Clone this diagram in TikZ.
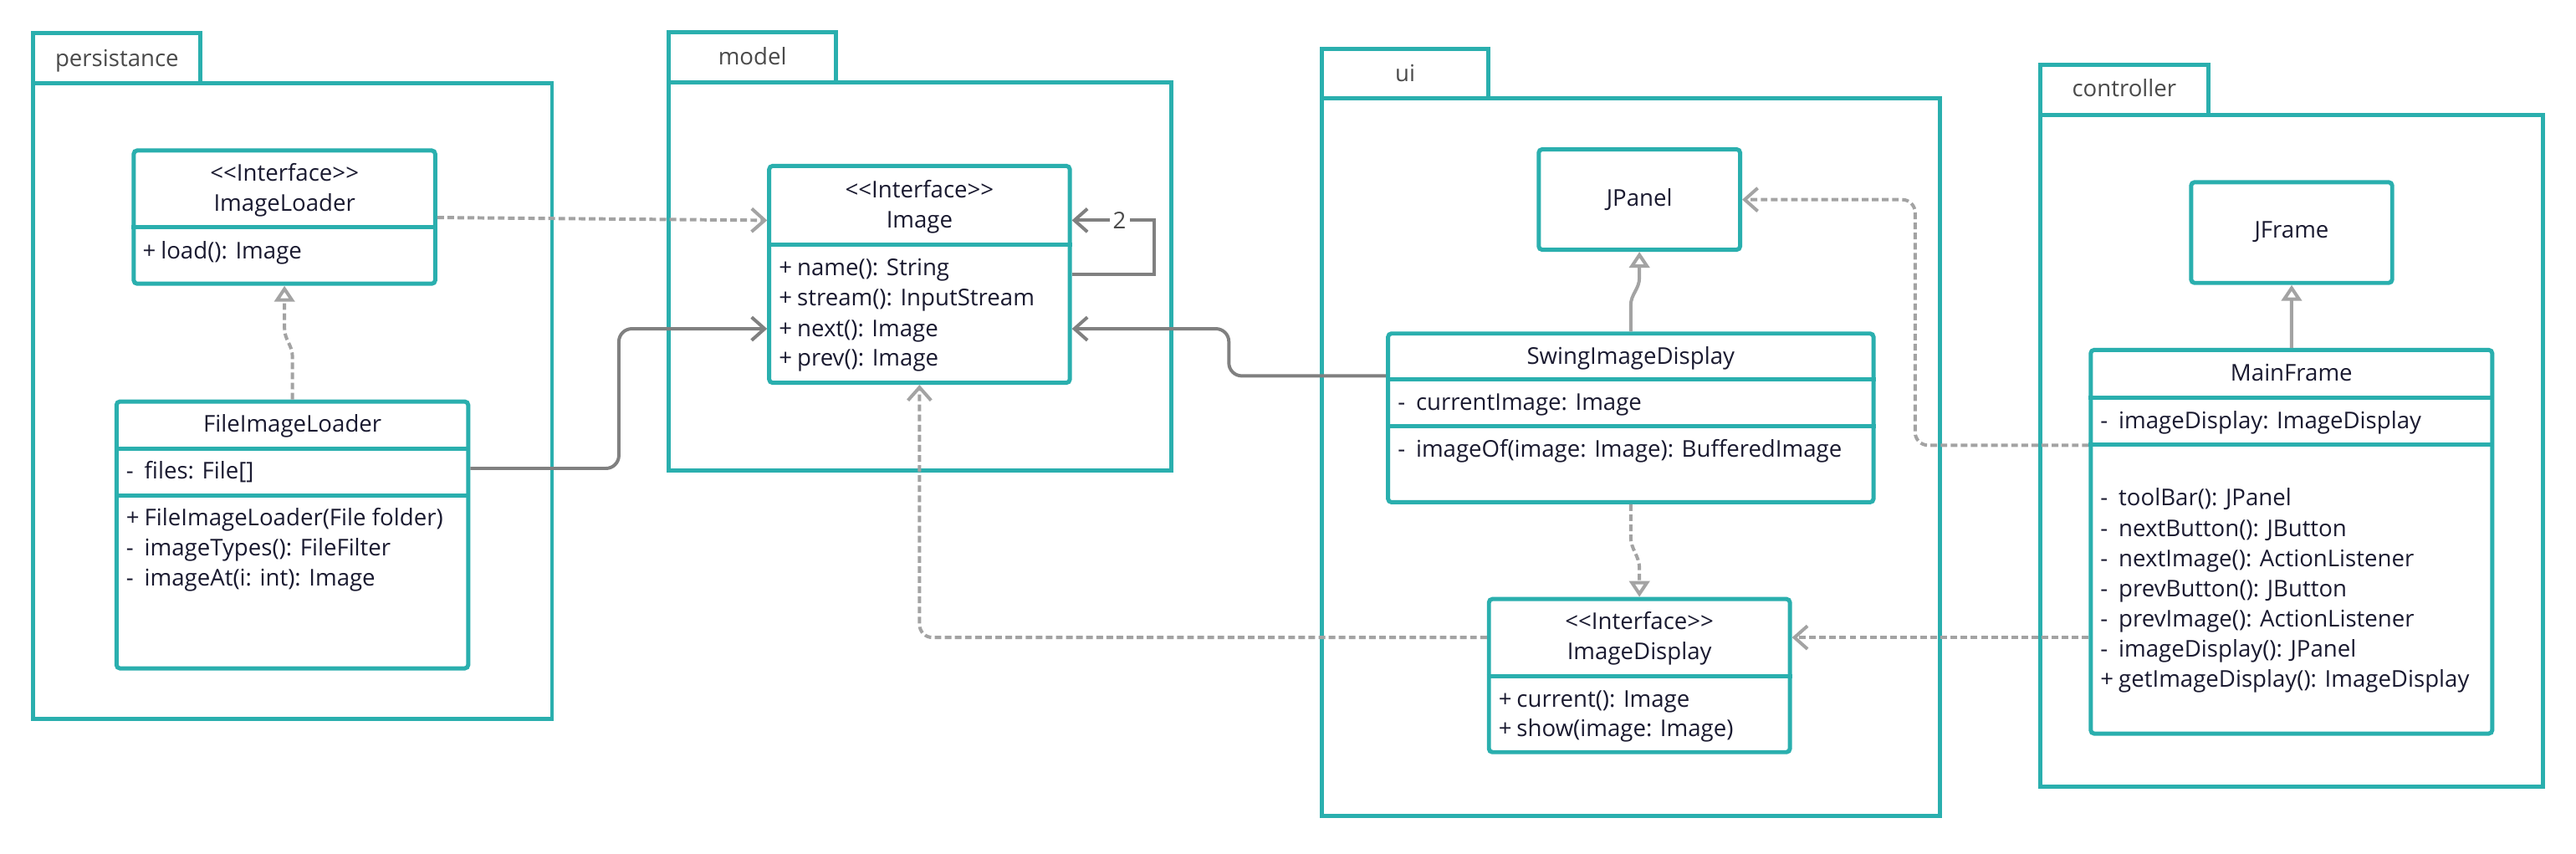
\documentclass[tikz,border=0pt]{standalone}
\usepackage{fontspec}
\newfontfamily\uif{Open Sans}
\usetikzlibrary{arrows.meta,fit}
\definecolor{pkgteal}{HTML}{2AAFAE}
\definecolor{txtdark}{HTML}{1A1A30}
\definecolor{pkgtext}{HTML}{4A4A4A}
\definecolor{linedark}{HTML}{808080}
\definecolor{linelight}{HTML}{A3A3A3}
\newcommand\mline[2]{\makebox[6.3pt][l]{#1}#2}
\tikzset{
  pkgbox/.style={draw=pkgteal, line width=1.44pt, inner sep=0pt},
  pkglabel/.style={font=\uif\fontsize{8}{10}\selectfont, text=pkgtext, inner sep=0pt, anchor=mid},
  clsbox/.style={draw=pkgteal, line width=1.44pt, rounded corners=1.2pt, inner sep=0pt, fill=white},
  clssep/.style={draw=pkgteal, line width=1.44pt},
  ctext/.style={font=\uif\fontsize{8}{10}\selectfont, text=txtdark, inner sep=0pt, anchor=mid},
  mtext/.style={ctext, anchor=mid west},
  assoc/.style={draw=linedark, line width=1.15pt, rounded corners=4.5pt, -{Straight Barb[length=4.5pt,width=8pt]}},
  depend/.style={draw=linelight, line width=1.15pt, rounded corners=4.5pt, dash pattern=on 2.3pt off 1.2pt, -{Straight Barb[length=4.5pt,width=8pt]}},
  realize/.style={draw=linelight, line width=1.15pt, dash pattern=on 2.3pt off 1.2pt, -{Triangle[open,length=5.5pt,width=7pt]}},
  general/.style={draw=linelight, line width=1.15pt, -{Triangle[open,length=5.5pt,width=7pt]}},
  multlabel/.style={font=\uif\fontsize{8}{10}\selectfont, text=pkgtext, fill=white, inner sep=1.2pt}
}
\begin{document}
\begin{tikzpicture}[x=0.02cm, y=-0.02cm]
\useasboundingbox (0,0) rectangle (1568,519.3);
\fill[white] (0,0) rectangle (1568,519.3);

% ---------- packages ----------
\node[pkgbox, fit={(20.3,20.3) (122,50.6)}] (persTab) {};
\node[pkgbox, fit={(20.3,50.6) (336,437.5)}] (persBody) {};
\node[pkglabel] (persLbl) at (71.2,36.5) {persistance};

\node[pkgbox, fit={(407,19.5) (509,50.2)}] (modelTab) {};
\node[pkgbox, fit={(407,50.2) (713,286.6)}] (modelBody) {};
\node[pkglabel] (modelLbl) at (458,35.5) {model};

\node[pkgbox, fit={(804.5,30) (906,60)}] (uiTab) {};
\node[pkgbox, fit={(804.5,60) (1181,496.6)}] (uiBody) {};
\node[pkglabel] (uiLbl) at (855.3,45.9) {ui};

\node[pkgbox, fit={(1242,39.3) (1344.3,70)}] (ctrlTab) {};
\node[pkgbox, fit={(1242,70) (1547.7,479)}] (ctrlBody) {};
\node[pkglabel] (ctrlLbl) at (1293,55.2) {controller};

% ---------- class boxes ----------
\node[clsbox, fit={(81.4,91.6) (264.9,172.7)}] (ImageLoader) {};
\node[clsbox, fit={(70.9,244.4) (285,406.8)}] (FIL) {};
\node[clsbox, fit={(468.2,101) (651.2,233)}] (Image) {};
\node[clsbox, fit={(936.6,90.9) (1059.2,152)}] (JPanel) {};
\node[clsbox, fit={(844.9,203) (1140.4,305.7)}] (SID) {};
\node[clsbox, fit={(906.3,364.6) (1089.5,457.8)}] (ImageDisplay) {};
\node[clsbox, fit={(1333.7,110.9) (1456.1,172.2)}] (JFrame) {};
\node[clsbox, fit={(1272.6,213) (1517,446.5)}] (MainFrame) {};

% ---------- connectors ----------
\draw[depend] (ImageLoader.east |- 0,132.4) -- (Image.west |- 0,134.1);
\draw[realize] (FIL.north) -- (178,217) to[out=90,in=-90] (173.2,200) -- (ImageLoader.south);
\draw[assoc] (FIL.east |- 0,285.1) -- (376.7,285.1) -- (376.7,200.1) -- (Image.west |- 0,200.1);
\draw[assoc, rounded corners=0pt] (Image.east |- 0,167) -- (702.4,167) -- (702.4,134.1)
   -- node[multlabel, pos=0.42] (mult) {2} (Image.east |- 0,134.1);
\draw[assoc] (SID.west |- 0,228.8) -- (748,228.8) -- (748,200.1) -- (Image.east |- 0,200.1);
\draw[general] (SID.north) -- (992.6,186) to[out=90,in=-90] (997.9,169) -- (JPanel.south);
\draw[realize] (SID.south) -- (992.6,326.7) to[out=-90,in=90] (997.9,346) -- (ImageDisplay.north);
\draw[depend] (ImageDisplay.west |- 0,388) -- (559.7,388) -- (Image.south);
\draw[depend] (MainFrame.west |- 0,271) -- (1165.7,271) -- (1165.7,121.5) -- (JPanel.east |- 0,121.5);
\draw[depend] (MainFrame.west |- 0,388) -- (ImageDisplay.east |- 0,388);
\draw[general] (MainFrame.north) -- (JFrame.south);

% ---------- ImageLoader ----------
\node[ctext] (il1) at (173.2,106.6) {<<Interface>>};
\node[ctext] (il2) at (173.2,124.7) {ImageLoader};
\draw[clssep] (ImageLoader.west |- 0,138.3) -- (ImageLoader.east |- 0,138.3);
\node[mtext] (il3) at (86.5,153.6) {\mline{+}{load(): Image}};

% ---------- FileImageLoader ----------
\node[ctext] (fil1) at (178,259) {FileImageLoader};
\draw[clssep] (FIL.west |- 0,272.9) -- (FIL.east |- 0,272.9);
\node[mtext] (fil2) at (76.5,287.6) {\mline{-}{files: File[]}};
\draw[clssep] (FIL.west |- 0,301.4) -- (FIL.east |- 0,301.4);
\node[mtext] (fil3) at (76.5,316) {\mline{+}{FileImageLoader(File folder)}};
\node[mtext] (fil4) at (76.5,334.5) {\mline{-}{imageTypes(): FileFilter}};
\node[mtext] (fil5) at (76.5,352.8) {\mline{-}{imageAt(i: int): Image}};

% ---------- Image ----------
\node[ctext] (im1) at (559.7,116.4) {<<Interface>>};
\node[ctext] (im2) at (559.7,134.9) {Image};
\draw[clssep] (Image.west |- 0,148.9) -- (Image.east |- 0,148.9);
\node[mtext] (im3) at (473.8,164.1) {\mline{+}{name(): String}};
\node[mtext] (im4) at (473.8,182.4) {\mline{+}{stream(): InputStream}};
\node[mtext] (im5) at (473.8,200.9) {\mline{+}{next(): Image}};
\node[mtext] (im6) at (473.8,219.2) {\mline{+}{prev(): Image}};

% ---------- JPanel ----------
\node[ctext] (jp1) at (997.9,121.5) {JPanel};

% ---------- SwingImageDisplay ----------
\node[ctext] (sid1) at (992.6,218) {SwingImageDisplay};
\draw[clssep] (SID.west |- 0,231) -- (SID.east |- 0,231);
\node[mtext] (sid2) at (850.5,246.1) {\mline{-}{currentImage: Image}};
\draw[clssep] (SID.west |- 0,259.3) -- (SID.east |- 0,259.3);
\node[mtext] (sid3) at (850.5,274.3) {\mline{-}{imageOf(image: Image): BufferedImage}};

% ---------- ImageDisplay ----------
\node[ctext] (id1) at (997.9,379.5) {<<Interface>>};
\node[ctext] (id2) at (997.9,397.6) {ImageDisplay};
\draw[clssep] (ImageDisplay.west |- 0,411.5) -- (ImageDisplay.east |- 0,411.5);
\node[mtext] (id3) at (911.8,426.7) {\mline{+}{current(): Image}};
\node[mtext] (id4) at (911.8,444.6) {\mline{+}{show(image: Image)}};

% ---------- JFrame ----------
\node[ctext] (jf1) at (1394.9,141.3) {JFrame};

% ---------- MainFrame ----------
\node[ctext] (mf1) at (1394.8,228) {MainFrame};
\draw[clssep] (MainFrame.west |- 0,242) -- (MainFrame.east |- 0,242);
\node[mtext] (mf2) at (1278.2,257.1) {\mline{-}{imageDisplay: ImageDisplay}};
\draw[clssep] (MainFrame.west |- 0,270.7) -- (MainFrame.east |- 0,270.7);
\node[mtext] (mf3) at (1278.2,304) {\mline{-}{toolBar(): JPanel}};
\node[mtext] (mf4) at (1278.2,322.6) {\mline{-}{nextButton(): JButton}};
\node[mtext] (mf5) at (1278.2,341.2) {\mline{-}{nextImage(): ActionListener}};
\node[mtext] (mf6) at (1278.2,359.4) {\mline{-}{prevButton(): JButton}};
\node[mtext] (mf7) at (1278.2,377.8) {\mline{-}{prevImage(): ActionListener}};
\node[mtext] (mf8) at (1278.2,396) {\mline{-}{imageDisplay(): JPanel}};
\node[mtext] (mf9) at (1278.2,414.6) {\mline{+}{getImageDisplay(): ImageDisplay}};
\end{tikzpicture}
\end{document}
